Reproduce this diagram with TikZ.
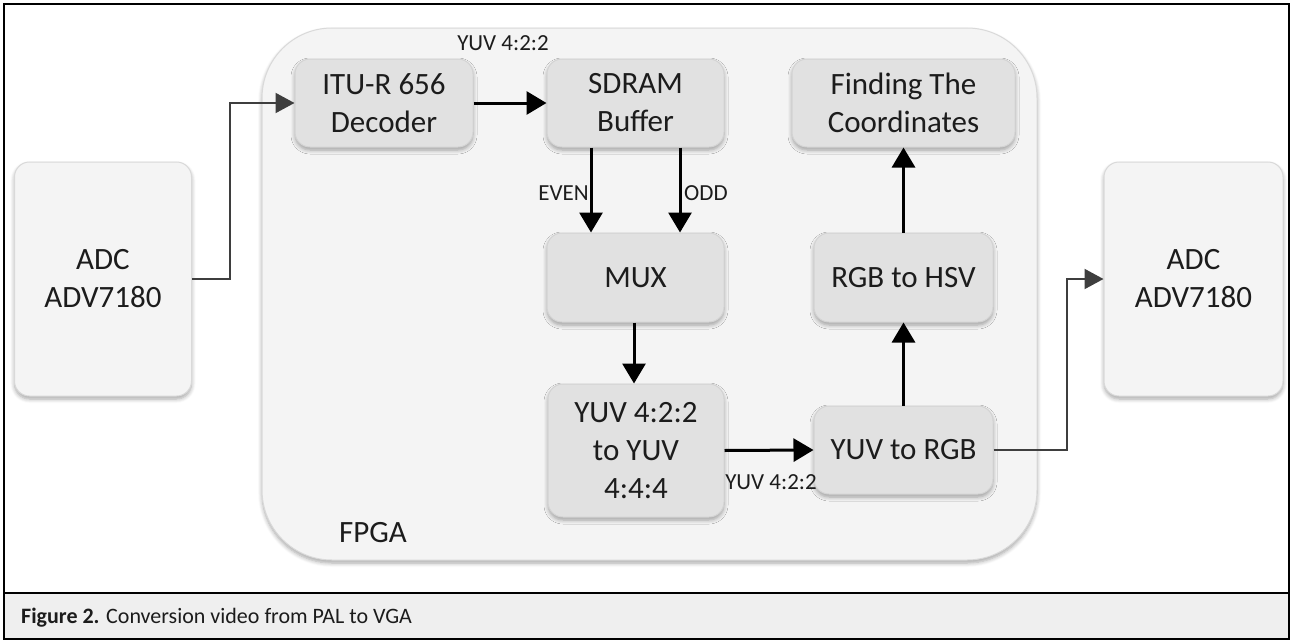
\documentclass[tikz,border=0pt]{standalone}
\usepackage{fontspec}
\setmainfont{Carlito}
\usetikzlibrary{arrows.meta,shadows.blur}
\definecolor{blockfill}{HTML}{E1E1E1}
\definecolor{blockline}{HTML}{D3D3D3}
\definecolor{panelfill}{HTML}{F4F4F4}
\definecolor{panelline}{HTML}{D9D9D9}
\definecolor{capfill}{HTML}{EFEFEF}
\definecolor{glow}{HTML}{B9CFE6}
\definecolor{ink}{HTML}{1C1C1C}
\tikzset{
  softshadow/.style={blur shadow={shadow xshift=0pt, shadow yshift=-3pt, shadow blur steps=6, shadow blur extra rounding=2pt, shadow opacity=35, shadow blur radius=4pt}},
  block/.style={draw=blockline, line width=1pt, fill=blockfill, rounded corners=15pt,
    align=center, text=ink, font=\fontsize{31}{38}\selectfont, inner sep=0pt, softshadow},
  panel/.style={draw=panelline, line width=1pt, fill=panelfill, rounded corners=15pt,
    align=center, text=ink, font=\fontsize{31}{38}\selectfont, inner sep=0pt, softshadow},
  tag/.style={text=ink, font=\fontsize{23}{28}\selectfont, inner sep=0pt},
  flow/.style={line width=3pt, -{Triangle[length=20pt,width=23pt]}},
  thinflow/.style={line width=2pt, draw=ink!85, -{Triangle[length=19pt,width=20pt]}},
}
\begin{document}
\begin{tikzpicture}[x=1pt, y=-1pt]
\useasboundingbox (0,0) rectangle (1294,640);
% outer frame and caption strip
\fill[capfill] (4,593) rectangle (1289,639);
\draw[line width=1.2pt] (4,4) rectangle (1289,639);
\draw[line width=1.2pt] (4,593) -- (1289,593);
\node[anchor=west, inner sep=0pt, text=ink, font=\fontsize{22}{26}\selectfont] (cap) at (21,618)
  {\textbf{Figure 2.} Conversion video from PAL to VGA};

% FPGA container
\node[draw=panelline, line width=1pt, fill=panelfill, rounded corners=70pt,
      minimum width=775pt, minimum height=532pt, inner sep=0pt, softshadow] (fpga) at (649.5,294) {};
\node[text=ink, font=\fontsize{31}{38}\selectfont, inner sep=0pt] (fpgalbl) at (373,533) {FPGA};

% external converters
\node[panel, minimum width=177pt, minimum height=234pt] (adcL) at (103,279) {ADC\\ADV7180};
\node[panel, minimum width=179pt, minimum height=234pt] (adcR) at (1193.5,279) {ADC\\ADV7180};

% processing blocks
\node[block, minimum width=178pt, minimum height=88pt] (itu)   at (384,103)   {ITU-R 656\\Decoder};
\node[block, minimum width=177pt, minimum height=88pt] (sdram) at (635.5,103) {SDRAM\\Buffer};
\node[block, minimum width=223pt, minimum height=88pt] (find)  at (903.5,103) {Finding The\\Coordinates};
\node[block, minimum width=177pt, minimum height=89pt] (mux)   at (635.5,277.5) {MUX};
\node[block, minimum width=179pt, minimum height=89pt] (hsv)   at (903.5,277.5) {RGB to HSV};
\node[block, minimum width=176pt, minimum height=133pt] (conv) at (636,450.5) {YUV 4:2:2\\to YUV\\4:4:4};
\node[block, minimum width=179pt, minimum height=88pt] (rgb)   at (903.5,450) {YUV to RGB};

% connectors
\coordinate (inbend) at (230,0);
\coordinate (outbend) at (1067,0);
\draw[thinflow] (adcL.east) -- (adcL.east -| inbend) |- (itu.west);
\draw[flow] (itu.east) -- (sdram.west);
\draw[flow] ([xshift=-44.5pt]sdram.south) -- ([xshift=-44.5pt]mux.north);
\draw[flow] ([xshift=44.5pt]sdram.south) -- ([xshift=44.5pt]mux.north);
\draw[flow] ([xshift=-1.5pt]mux.south) -- ([xshift=-2pt]conv.north);
\draw[flow] (conv.east) -- (rgb.west);
\draw[flow] (rgb.north) -- (hsv.south);
\draw[flow] (hsv.north) -- (find.south);
\draw[thinflow] (rgb.east) -- (rgb.east -| outbend) |- (adcR.west);

% signal labels
\node[tag] (lblyuvtop) at (503,43) {YUV 4:2:2};
\node[tag, anchor=east] (lbleven) at (589,193) {EVEN};
\node[tag, anchor=west] (lblodd) at (684,193) {ODD};
\node[tag] (lblyuvbot) at (771,482) {YUV 4:2:2};
\end{tikzpicture}
\end{document}
